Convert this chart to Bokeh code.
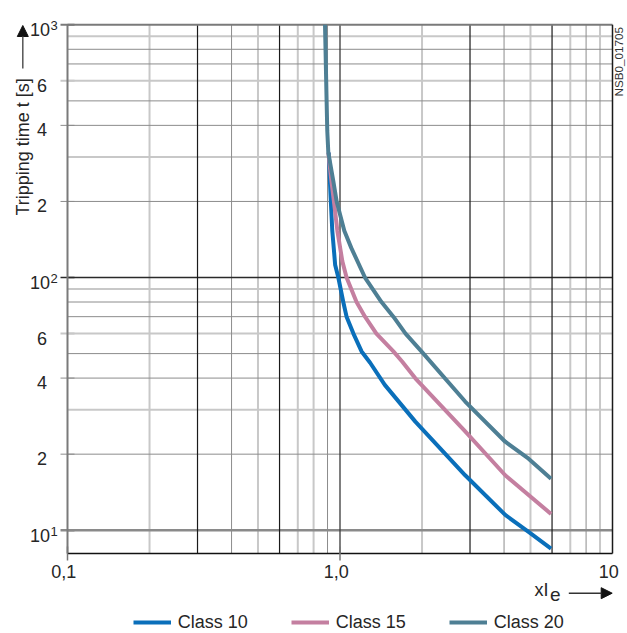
import math
from bokeh.plotting import figure
from bokeh.models import (LabelSet, Label, ColumnDataSource, Arrow, NormalHead,
                          Legend, LegendItem, Range1d)
from bokeh.core.properties import value
from bokeh.embed import file_html
from bokeh.resources import INLINE

# ---------------- data ----------------
X_MIN, X_MAX = 0.1, 10.0
Y_MIN, Y_MAX = 8.09, 1000.0

x_ticks = [0.1, 1.0, 10.0]
x_tick_labels = ["0,1", "1,0", "10"]
x_tick_marks = [0.1, 1.0]

y_small_ticks = [20, 40, 60, 200, 400, 600]
y_small_labels = ["2", "4", "6", "2", "4", "6"]
y_decades = [10, 100, 1000]
y_decade_base = ["10", "10", "10"]
y_decade_exp = ["1", "2", "3"]
y_tick_marks = [10, 20, 40, 60, 100, 200, 400, 600, 1000]

# grid values, grouped by line style
x_grid_light = [0.2, 0.5, 0.7, 0.8, 2, 5, 7, 9]
x_grid_mid = [0.4, 0.9, 4, 8]
x_grid_dark = [0.3, 0.6, 3, 6]
x_grid_one = [1.0]
y_grid_light = [30, 60, 90, 300, 600, 900]
y_grid_mid = [20, 40, 50, 70, 80, 200, 400, 500, 700, 800]
y_grid_ten = [10]
y_grid_hundred = [100]
y_grid_top = [1000]

class10_x = [0.91, 0.916, 0.924, 0.937, 0.96, 0.986, 1.028, 1.057, 1.12, 1.20, 1.29, 1.46, 1.89, 2.88, 4.04, 4.92, 5.95]
class10_y = [312, 257, 207, 153, 112, 100, 80, 70, 60, 51, 46, 37.6, 26.9, 16.5, 11.5, 9.85, 8.45]

class15_x = [0.906, 0.93, 0.95, 0.978, 1.02, 1.057, 1.15, 1.235, 1.36, 1.57, 1.69, 1.89, 2.88, 4.04, 5.95]
class15_y = [312, 241, 200, 153, 116, 100, 80, 70, 60, 51, 46.5, 39.9, 24.6, 16.5, 11.6]

class20_x = [0.881, 0.893, 0.898, 0.906, 0.945, 0.972, 1.037, 1.10, 1.235, 1.42, 1.57, 1.74, 1.99, 2.88, 4.04, 4.92, 5.95]
class20_y = [1000, 500, 381, 312, 241, 200, 153, 131, 100, 80, 70, 60, 51, 32.3, 22.4, 19.2, 16.0]

series_names = ["Class 10", "Class 15", "Class 20"]
series_colors = ["#0a6fba", "#c47fa0", "#4e7f94"]

# ---------------- layout (pixels) ----------------
W, H = 627, 633
PL, PR, PT, PB = 67, 612, 24.3, 553      # chart box inside the canvas
xdec = (PR - PL) / math.log10(X_MAX / X_MIN)
ydec = (PB - PT) / math.log10(Y_MAX / Y_MIN)
xr = Range1d(X_MIN * 10 ** (-PL / xdec), X_MAX * 10 ** ((W - PR) / xdec))
yr = Range1d(Y_MIN * 10 ** (-(H - PB) / ydec), Y_MAX * 10 ** (PT / ydec))

FONT_NAME = "Liberation Sans"
FONT = value(FONT_NAME)
TXT = "#262626"

p = figure(width=W, height=H, x_axis_type="log", y_axis_type="log",
           x_range=xr, y_range=yr, x_axis_location=None, y_axis_location=None,
           output_backend="svg", toolbar_location=None, min_border=0)
p.outline_line_color = None
p.background_fill_color = "white"
p.border_fill_color = "white"
for g in p.grid:
    g.visible = False

def vgrid(ticks, color, width):
    n = len(ticks)
    p.segment(x0=ticks, y0=[Y_MIN] * n, x1=ticks, y1=[Y_MAX] * n,
              line_color=color, line_width=width, line_cap="butt")

def hgrid(ticks, color, width):
    n = len(ticks)
    p.segment(x0=[X_MIN] * n, y0=ticks, x1=[X_MAX] * n, y1=ticks,
              line_color=color, line_width=width, line_cap="butt")
    marks = [t for t in ticks if t in y_tick_marks]
    if marks:
        p.scatter(x=[X_MIN] * len(marks), y=marks, marker="dash", size=14,
                  line_color=color, line_width=width)

LIGHT, MID = "#c8c8c8", "#8c8c8c"
hgrid(y_grid_light, LIGHT, 2)
vgrid(x_grid_light, LIGHT, 2)
hgrid(y_grid_mid, MID, 1)
vgrid(x_grid_mid, MID, 1)
hgrid(y_grid_ten, "#8a8a8a", 2.5)
hgrid(y_grid_hundred, "#2a2a2a", 1.3)
vgrid(x_grid_dark, "#1a1a1a", 1.2)
vgrid(x_grid_one, "#3a3a3a", 1.3)
# chart borders
hgrid(y_grid_top, "#7a7a7a", 2)
vgrid([X_MIN], "#7a7a7a", 2)
vgrid([X_MAX], "#1a1a1a", 1.5)
p.segment(x0=[X_MIN], y0=[Y_MIN], x1=[X_MAX], y1=[Y_MIN], line_color="#111111", line_width=1.5)
p.scatter(x=x_tick_marks, y=[Y_MIN] * len(x_tick_marks), marker="dash", angle=math.pi / 2,
          size=14, line_color="#777777", line_width=1.5)

# curves
renderers = []
for cx, cy, col in zip([class10_x, class15_x, class20_x], [class10_y, class15_y, class20_y], series_colors):
    renderers.append(p.line(cx, cy, line_color=col, line_width=4, line_join="round", line_cap="butt"))

# tick labels
p.add_layout(LabelSet(source=ColumnDataSource(dict(x=x_ticks, y=[Y_MIN] * len(x_ticks), text=x_tick_labels)),
                      x="x", y="y", text="text", x_offset=-3.7, y_offset=-17.7,
                      text_align="center", text_baseline="middle",
                      text_font=FONT, text_font_size="18px", text_color=TXT))
p.add_layout(LabelSet(source=ColumnDataSource(dict(x=[X_MIN] * len(y_small_ticks), y=y_small_ticks, text=y_small_labels)),
                      x="x", y="y", text="text", x_offset=-20.4, y_offset=-4.5,
                      text_align="right", text_baseline="middle",
                      text_font=FONT, text_font_size="18px", text_color=TXT))
p.add_layout(LabelSet(source=ColumnDataSource(dict(x=[X_MIN] * 3, y=y_decades, text=y_decade_base)),
                      x="x", y="y", text="text", x_offset=-17.5, y_offset=-5,
                      text_align="right", text_baseline="middle",
                      text_font=FONT, text_font_size="18px", text_color=TXT))
p.add_layout(LabelSet(source=ColumnDataSource(dict(x=[X_MIN] * 3, y=y_decades, text=y_decade_exp)),
                      x="x", y="y", text="text", x_offset=-17, y_offset=-1,
                      text_align="left", text_baseline="middle",
                      text_font=FONT, text_font_size="13px", text_color=TXT))

# axis titles (screen units: from canvas bottom-left)
p.add_layout(Label(x=22.6, y=H - 215, x_units="screen", y_units="screen",
                   text="Tripping time t  [s]", angle=math.pi / 2,
                   text_align="left", text_baseline="middle",
                   text_font=FONT_NAME, text_font_size="18px", text_color=TXT))
p.add_layout(Arrow(x_start=22.3, y_start=H - 68, x_end=22.3, y_end=H - 25,
                   start_units="screen", end_units="screen",
                   line_color="#555555", line_width=1.5,
                   end=NormalHead(size=11, fill_color="#111111", line_color="#111111", line_width=1)))

for txt, xpos, ypos, fs in [("x", 534, 589.8, "18px"), ("I", 543, 589.8, "18px"), ("e", 549.5, 593.6, "19px")]:
    p.add_layout(Label(x=xpos, y=H - ypos, x_units="screen", y_units="screen",
                       text=txt, text_align="left", text_baseline="middle",
                       text_font=FONT_NAME, text_font_size=fs, text_color=TXT))
p.add_layout(Arrow(x_start=568.3, y_start=H - 592.7, x_end=611.7, y_end=H - 592.7,
                   start_units="screen", end_units="screen",
                   line_color="#333333", line_width=1.5,
                   end=NormalHead(size=11, fill_color="#111111", line_color="#111111", line_width=1)))

p.add_layout(Label(x=618.4, y=H - 96, x_units="screen", y_units="screen",
                   text="NSB0_01705", angle=math.pi / 2,
                   text_align="left", text_baseline="middle",
                   text_font=FONT_NAME, text_font_size="11.7px", text_color="#333333"))

# legend
legend = Legend(items=[LegendItem(label=n, renderers=[r]) for n, r in zip(series_names, renderers)],
                location=(132.7, H - 632.5), orientation="horizontal",
                glyph_width=38, glyph_height=20, label_height=20, label_standoff=7,
                spacing=43, padding=0, margin=0,
                border_line_alpha=0, background_fill_alpha=0,
                label_text_font=FONT_NAME, label_text_font_size="18px", label_text_color=TXT)
p.add_layout(legend)

open("out.html", "w").write(file_html(p, INLINE))
